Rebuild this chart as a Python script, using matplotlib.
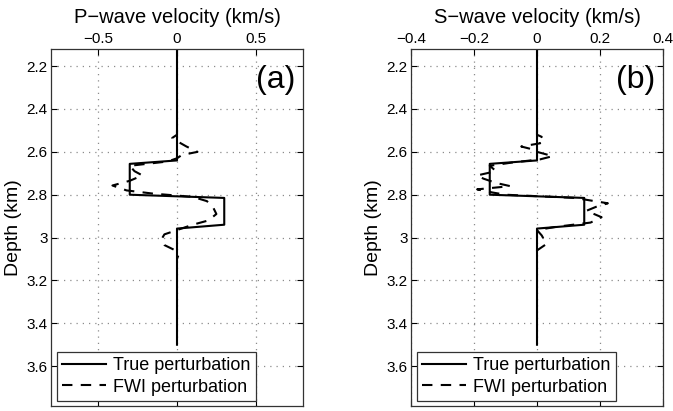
import matplotlib as mpl
mpl.use("Agg")
import matplotlib.pyplot as plt

mpl.rcParams["font.family"] = ["Liberation Sans", "DejaVu Sans"]
mpl.rcParams["axes.unicode_minus"] = True
mpl.rcParams["legend.fancybox"] = False

# true model perturbation (depth in km)
true_depth = [2.0, 2.64, 2.656, 2.80, 2.815, 2.94, 2.958, 3.5]
true_vp = [0, 0, -0.3, -0.3, 0.3, 0.3, 0, 0]
true_vs = [0, 0, -0.15, -0.15, 0.15, 0.15, 0, 0]

# FWI recovered perturbation
fwi_depth_p = [2.50, 2.52, 2.535, 2.55, 2.575, 2.60, 2.615, 2.63, 2.645, 2.665,
               2.69, 2.71, 2.735, 2.757, 2.78, 2.795, 2.81, 2.83, 2.86, 2.89,
               2.92, 2.94, 2.96, 2.985, 3.01, 3.035, 3.06, 3.08, 3.10]
fwi_vp = [0.0, 0.0, -0.03, 0.0, 0.06, 0.13, 0.03, 0.0, -0.06, -0.30,
          -0.27, -0.22, -0.30, -0.41, -0.32, -0.15, 0.10, 0.19, 0.23, 0.25,
          0.20, 0.10, 0.02, -0.08, -0.10, -0.08, -0.01, 0.01, 0.0]

fwi_depth_s = [2.50, 2.52, 2.53, 2.545, 2.56, 2.575, 2.59, 2.60, 2.62, 2.635,
               2.65, 2.665, 2.69, 2.71, 2.725, 2.745, 2.76, 2.775, 2.79, 2.80,
               2.815, 2.84, 2.855, 2.875, 2.905, 2.93, 2.95, 2.965, 2.99, 3.03,
               3.06, 3.10]
fwi_vs = [0.0, 0.0, 0.015, 0.0, 0.01, -0.05, -0.01, 0.0, 0.05, 0.01,
          -0.08, -0.15, -0.13, -0.19, -0.17, -0.13, -0.085, -0.19, -0.14, -0.10,
          0.12, 0.225, 0.19, 0.157, 0.205, 0.17, 0.06, 0.0, 0.015, 0.03,
          0.0, 0.0]

depth_ticks = [2.2, 2.4, 2.6, 2.8, 3.0, 3.2, 3.4, 3.6]
depth_labels = ["2.2", "2.4", "2.6", "2.8", "3", "3.2", "3.4", "3.6"]

panels = [
    ("P\u2212wave velocity (km/s)", "(a)", true_vp, fwi_depth_p, fwi_vp,
     (-0.8, 0.8), [-0.5, 0, 0.5], ["\u22120.5", "0", "0.5"]),
    ("S\u2212wave velocity (km/s)", "(b)", true_vs, fwi_depth_s, fwi_vs,
     (-0.4, 0.4), [-0.4, -0.2, 0, 0.2, 0.4],
     ["\u22120.4", "\u22120.2", "0", "0.2", "0.4"]),
]

fig = plt.figure(figsize=(6.73, 4.11), dpi=100)
lefts = [51 / 673, 411 / 673]

for left, (title, tag, tv, fd, fv, xlim, xt, xtl) in zip(lefts, panels):
    ax = fig.add_axes([left, 5 / 411, 252 / 673, 357 / 411])
    ax.plot(tv, true_depth, color="k", lw=1.5, label="True perturbation")
    ax.plot(fv, fd, color="k", lw=1.5, linestyle=(0, (5, 4)),
            label="FWI perturbation")
    ax.set_xlim(xlim)
    ax.set_ylim(3.786, 2.12)
    ax.set_xticks(xt)
    ax.set_xticklabels(xtl)
    ax.set_yticks(depth_ticks)
    ax.set_yticklabels(depth_labels)
    ax.xaxis.tick_top()
    ax.tick_params(direction="in", length=4, width=0.8, labelsize=11,
                   top=True, bottom=True, left=True, right=True,
                   labeltop=True, labelbottom=False, pad=2.5)
    ax.grid(True, color="0.55", linestyle=(0, (1, 4)), lw=0.9)
    for s in ax.spines.values():
        s.set_linewidth(0.9)
        s.set_color("0.2")
    ax.set_title(title, fontsize=14.5, pad=19)
    ax.set_ylabel("Depth (km)", fontsize=14, labelpad=3)
    ax.text(0.97, 0.955, tag, transform=ax.transAxes, ha="right", va="top",
            fontsize=23)
    leg = ax.legend(loc="lower left", bbox_to_anchor=(0.024, 0.014),
                    borderaxespad=0, fontsize=13, handlelength=2.4,
                    handletextpad=0.4, borderpad=0.3, labelspacing=0.25,
                    framealpha=1)
    leg.get_frame().set_edgecolor("0.2")
    leg.get_frame().set_linewidth(0.9)

fig.savefig("out.png", dpi=100)
plt.close()
